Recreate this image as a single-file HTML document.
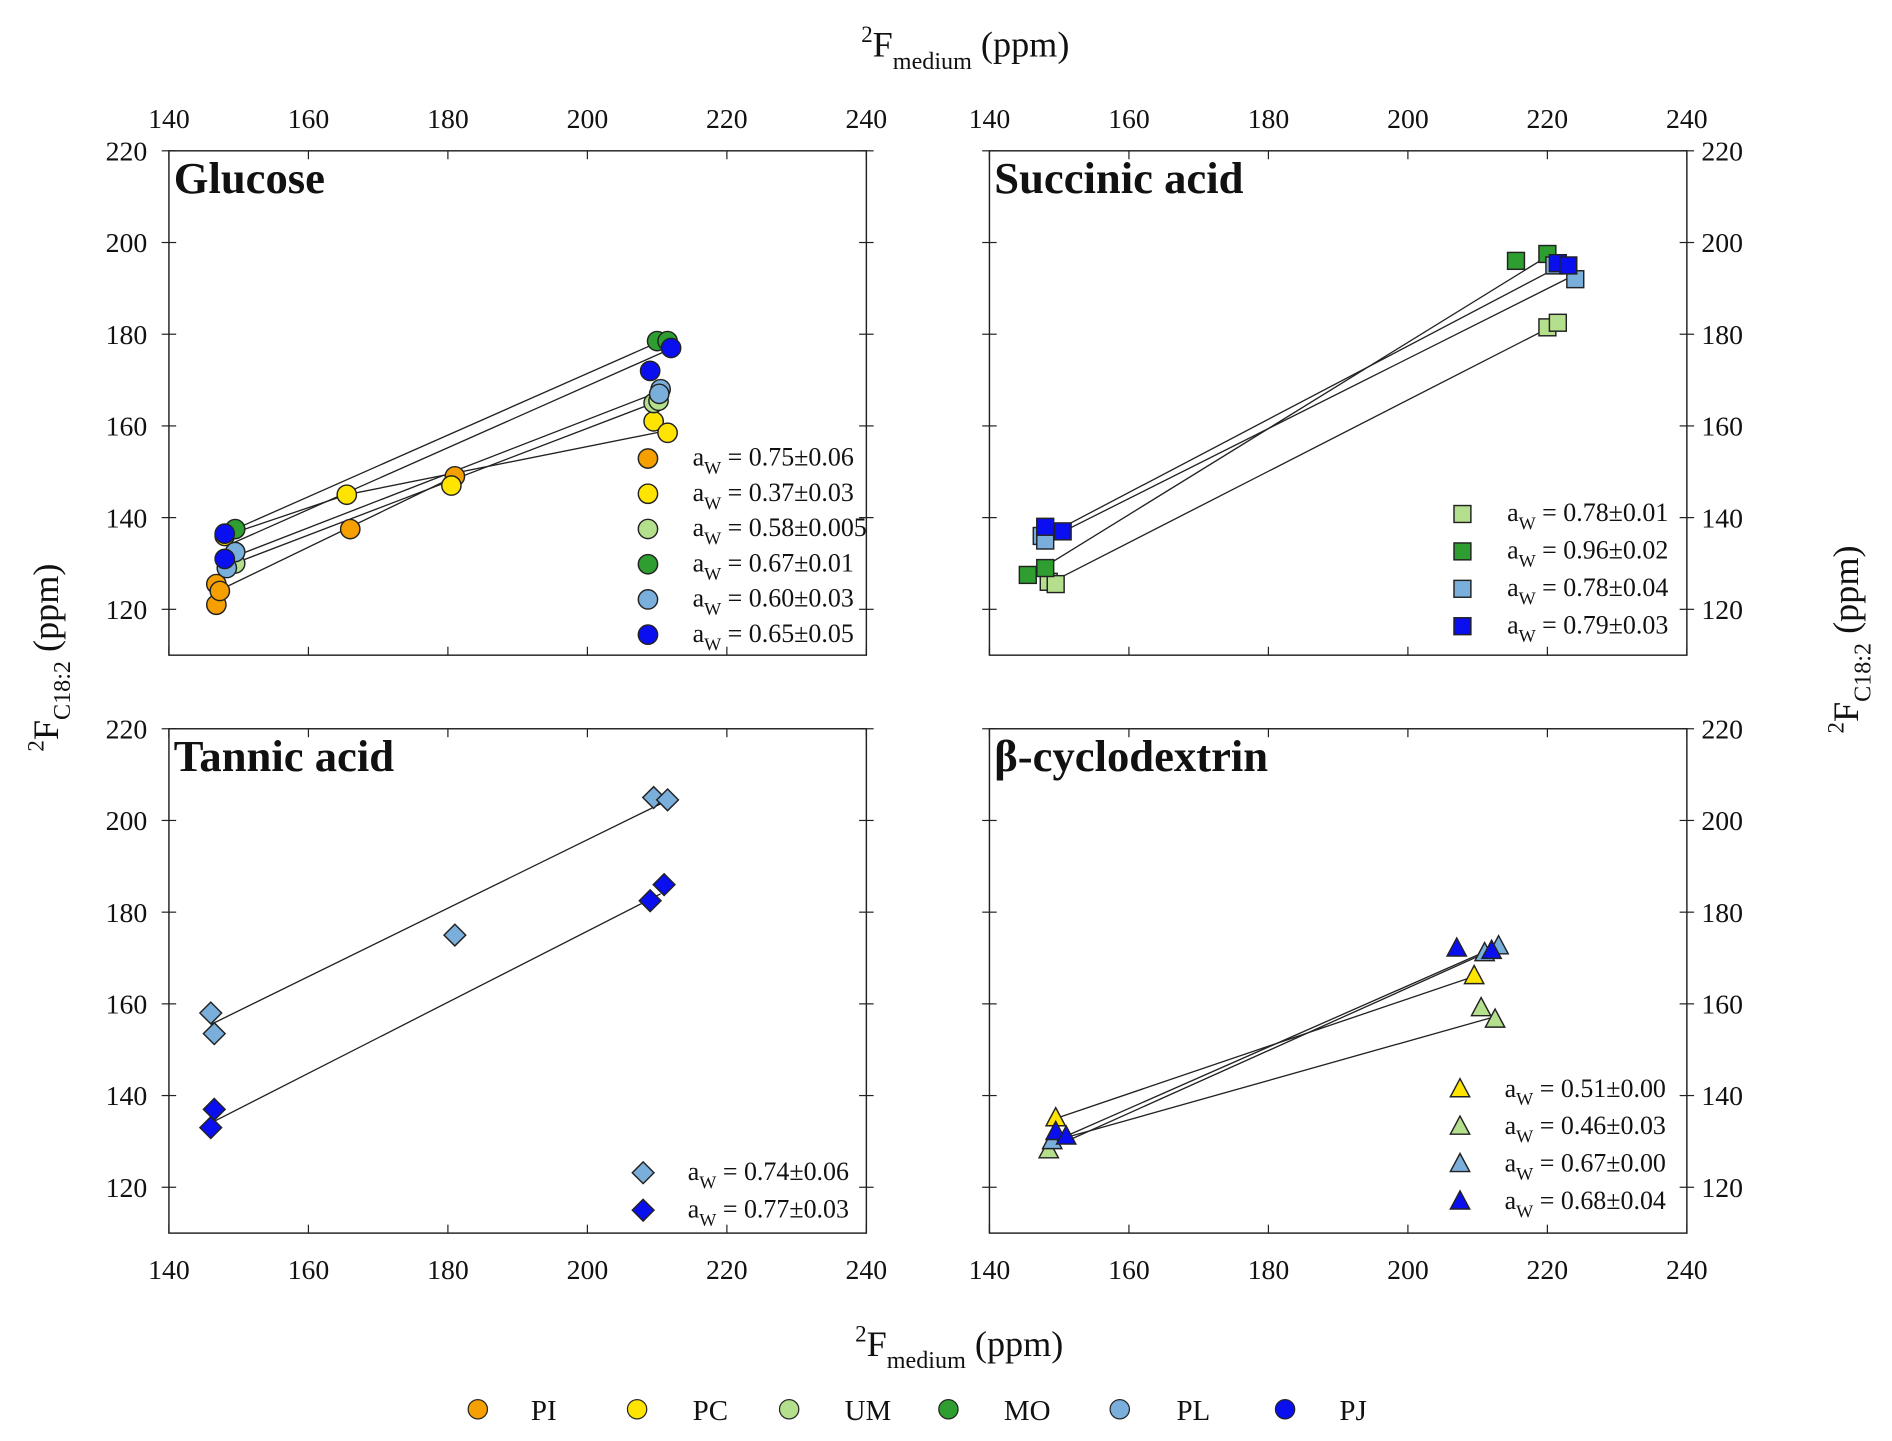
<!DOCTYPE html>
<html><head><meta charset="utf-8"><style>body{margin:0;background:#fff}svg{display:block}text{font-family:"Liberation Serif",serif;fill:#111}</style></head>
<body>
<svg id="chart" width="1892" height="1441" viewBox="0 0 1568 1194.3" preserveAspectRatio="none" xmlns="http://www.w3.org/2000/svg"></svg>
<script>
const xTicks=[140,160,180,200,220,240];
const yTicks=[120,140,160,180,200,220];
const seriesNames=['PI','PC','UM','MO','PL','PJ'];
const seriesColors={PI:'#f5a000',PC:'#ffe400',UM:'#b4df8c',MO:'#2e9e30',PL:'#7aaedb',PJ:'#0a0ff0'};
// Glucose
const gluPI=[[146.8,121],[146.8,125.5],[147.3,124],[166,137.5],[181,149]];
const gluPC=[[148,136],[165.5,145],[180.5,147],[209.5,161],[211.5,158.5]];
const gluUM=[[149.5,130],[209.5,165],[210.2,165.5]];
const gluMO=[[149.5,137.5],[210,178.5],[211.5,178.5]];
const gluPL=[[148.3,129],[149.5,132.5],[210.5,168],[210.3,167]];
const gluPJ=[[148,136.5],[148,131],[209,172],[212,177]];
const gluLines=[[149.5,137.5,210.5,178.5],[148.5,134,211.5,176.5],[148.5,131,209.5,167],[148.5,129.5,209.5,165],[148,136,165.5,145,211.5,159],[147,124,181,149]];
const gluLegend=[['PI','0.75±0.06'],['PC','0.37±0.03'],['UM','0.58±0.005'],['MO','0.67±0.01'],['PL','0.60±0.03'],['PJ','0.65±0.05']];
// Succinic
const sucUM=[[148.5,126],[149.5,125.5],[220,181.5],[221.5,182.5]];
const sucMO=[[145.5,127.5],[148,129],[215.5,196],[220,197.5]];
const sucPL=[[147.5,136],[148,135],[221,195],[224,192]];
const sucPJ=[[148,138],[150.5,137],[221.5,195.5],[223,195]];
const sucLines=[[149,126,221,182],[146,127.5,220,197],[148,135,224,193],[150,137.5,222,195]];
const sucLegend=[['UM','0.78±0.01'],['MO','0.96±0.02'],['PL','0.78±0.04'],['PJ','0.79±0.03']];
// Tannic
const tanPL=[[146,158],[146.5,153.5],[181,175],[209.5,205],[211.5,204.5]];
const tanPJ=[[146,133],[146.5,137],[209,182.5],[211,186]];
const tanLines=[[146,155.5,211,204],[146,134,210.5,184]];
const tanLegend=[['PL','0.74±0.06'],['PJ','0.77±0.03']];
// beta-cyclodextrin
const cycPC=[[149.5,135],[209.5,166]];
const cycUM=[[148.5,128],[210.5,159],[212.5,156.5]];
const cycPL=[[149,130],[211,171],[213,172.5]];
const cycPJ=[[149.5,132],[151,131],[207,172],[212,171.5]];
const cycLines=[[149.5,135,209.5,166],[149,130,212,157],[150,130.5,212,172],[151,130,211,171]];
const cycLegend=[['PC','0.51±0.00'],['UM','0.46±0.03'],['PL','0.67±0.00'],['PJ','0.68±0.04']];

const svg=document.getElementById('chart');
const NS='http://www.w3.org/2000/svg';
function mk(t,a,p){const e=document.createElementNS(NS,t);for(const k in a)e.setAttribute(k,a[k]);(p||svg).appendChild(e);return e;}
function marker(shape,cx,cy,col,g){
 const st={fill:col,stroke:'#222','stroke-width':1.2};let e;
 if(shape==='circle'){e=mk('circle',Object.assign({cx,cy,r:8},st),g);}
 else if(shape==='square'){e=mk('rect',Object.assign({x:cx-7,y:cy-7,width:14,height:14},st),g);}
 else if(shape==='diamond'){e=mk('polygon',Object.assign({points:`${cx},${cy-9} ${cx+9},${cy} ${cx},${cy+9} ${cx-9},${cy}`},st),g);}
 else {e=mk('polygon',Object.assign({points:`${cx},${cy-9} ${cx+8},${cy+6} ${cx-8},${cy+6}`},st),g);}
 return e;
}
function panel(id,x0,yTop,right,topLabels,bottomLabels,title,shape,sets,lines,legend,legX,legY0,legDy){
 const W=578,H=418;
 const sx=v=>x0+(v-140)/100*W;
 const sy=v=>yTop+(220-v)/110*H;
 const g=mk('g',{});
 
 
 mk('rect',{x:x0,y:yTop,width:W,height:H,fill:'none',stroke:'#222','stroke-width':1.2},g);
 xTicks.forEach(t=>{const X=sx(t);
  mk('line',{x1:X,y1:yTop+H,x2:X,y2:yTop+H-7,stroke:'#222'},g);
  mk('line',{x1:X,y1:yTop,x2:X,y2:yTop+7,stroke:'#222'},g);
  if(topLabels){const e=mk('text',{x:X,y:yTop-19,'text-anchor':'middle','font-size':23},g);e.textContent=t;}
  if(bottomLabels){const e=mk('text',{x:X,y:yTop+H+38,'text-anchor':'middle','font-size':23},g);e.textContent=t;}
 });
 yTicks.forEach(t=>{const Y=sy(t);
  mk('line',{x1:x0-6,y1:Y,x2:x0+6,y2:Y,stroke:'#222'},g);
  mk('line',{x1:x0+W-6,y1:Y,x2:x0+W+6,y2:Y,stroke:'#222'},g);
  const e=right?mk('text',{x:x0+W+12,y:Y+8,'font-size':23},g):mk('text',{x:x0-18,y:Y+8,'text-anchor':'end','font-size':23},g);
  e.textContent=t;
 });
 const tt=mk('text',{x:x0+4,y:yTop+35,'font-size':37,'font-weight':'bold'},g);tt.textContent=title;
 
 
 lines.forEach(l=>{let pts=[];for(let i=0;i<l.length;i+=2)pts.push(sx(l[i])+','+sy(l[i+1]));
  const p=mk('polyline',{points:pts.join(' '),fill:'none',stroke:'#222','stroke-width':1.1},g);
  
  
 });
 sets.forEach(([name,arr])=>arr.forEach(d=>{const m=marker(shape,sx(d[0]),sy(d[1]),seriesColors[name],g);
  
  
 }));
 legend.forEach(([name,val],i)=>{const Y=legY0+i*legDy;
  const m=marker(shape,legX,Y,seriesColors[name],g);
  
  
  const t=mk('text',{x:legX+37,y:Y+6,'font-size':21.5},g);
  t.innerHTML='a<tspan font-size="15" dy="7">W</tspan><tspan dy="-7"> = '+val+'</tspan>';
  
  
 });
}
panel('glucose',140,125,false,true,false,'Glucose','circle',[['PI',gluPI],['PC',gluPC],['UM',gluUM],['MO',gluMO],['PL',gluPL],['PJ',gluPJ]],gluLines,gluLegend,537,380,29.2);
panel('succinic',820,125,true,true,false,'Succinic acid','square',[['UM',sucUM],['MO',sucMO],['PL',sucPL],['PJ',sucPJ]],sucLines,sucLegend,1212,426,31);
panel('tannic',140,604,false,false,true,'Tannic acid','diamond',[['PL',tanPL],['PJ',tanPJ]],tanLines,tanLegend,533,972,31);
panel('cyclodextrin',820,604,true,false,true,'β-cyclodextrin','triangle',[['PC',cycPC],['UM',cycUM],['PL',cycPL],['PJ',cycPJ]],cycLines,cycLegend,1210,903,31);
</script>
<svg style="position:absolute;left:0;top:0" width="1892" height="1441" viewBox="0 0 1568 1194.3" preserveAspectRatio="none" xmlns="http://www.w3.org/2000/svg">
 <text x="800" y="47" text-anchor="middle" font-size="30"><tspan font-size="19" dy="-12">2</tspan><tspan dy="12">F</tspan><tspan font-size="20" dy="10">medium</tspan><tspan dy="-10"> (ppm)</tspan></text>
 <text x="795" y="1124" text-anchor="middle" font-size="30"><tspan font-size="19" dy="-12">2</tspan><tspan dy="12">F</tspan><tspan font-size="20" dy="10">medium</tspan><tspan dy="-10"> (ppm)</tspan></text>
 <text transform="translate(48,545) rotate(-90)" text-anchor="middle" font-size="30"><tspan font-size="19" dy="-12">2</tspan><tspan dy="12">F</tspan><tspan font-size="20" dy="10">C18:2</tspan><tspan dy="-10"> (ppm)</tspan></text>
 <text transform="translate(1540,530) rotate(-90)" text-anchor="middle" font-size="30"><tspan font-size="19" dy="-12">2</tspan><tspan dy="12">F</tspan><tspan font-size="20" dy="10">C18:2</tspan><tspan dy="-10"> (ppm)</tspan></text>
 <g font-size="24">
  <circle cx="396" cy="1168" r="8" fill="#f5a000" stroke="#222"/><text x="440" y="1177">PI</text>
  <circle cx="528" cy="1168" r="8" fill="#ffe400" stroke="#222"/><text x="574" y="1177">PC</text>
  <circle cx="654" cy="1168" r="8" fill="#b4df8c" stroke="#222"/><text x="700" y="1177">UM</text>
  <circle cx="786" cy="1168" r="8" fill="#2e9e30" stroke="#222"/><text x="832" y="1177">MO</text>
  <circle cx="928" cy="1168" r="8" fill="#7aaedb" stroke="#222"/><text x="975" y="1177">PL</text>
  <circle cx="1065" cy="1168" r="8" fill="#0a0ff0" stroke="#222"/><text x="1110" y="1177">PJ</text>
 </g>
</svg>
</body></html>
